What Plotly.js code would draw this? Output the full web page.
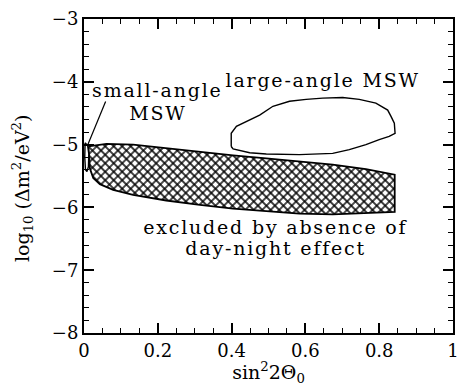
<!DOCTYPE html>
<html>
<head>
<meta charset="utf-8">
<script src="https://cdn.plot.ly/plotly-3.0.1.min.js"></script>
<style>
html,body{margin:0;padding:0;background:#fff;}
#chart{width:457px;height:386px;}
#chart .annotation:not([data-index="5"]) .annotation-text{letter-spacing:1.8px;}
#chart .subplot.xy .scatterlayer .trace:first-of-type path.js-fill{fill:url(#hatch) !important;fill-opacity:1 !important;}
</style>
</head>
<body>
<svg width="0" height="0" style="position:absolute">
  <defs>
    <pattern id="hatch" width="6" height="6" patternUnits="userSpaceOnUse" patternTransform="rotate(45)">
      <rect width="6" height="6" fill="white"></rect>
      <path d="M0,3H6M3,0V6" stroke="black" stroke-width="1.4"></path>
    </pattern>
  </defs>
</svg>
<div id="chart"></div>
<script>
// Excluded region (day-night effect), hatched
const excludedX = [0.012, 0.061, 0.133, 0.223, 0.314, 0.404, 0.494, 0.584, 0.674, 0.764, 0.842,
                   0.842, 0.764, 0.674, 0.584, 0.494, 0.404, 0.314, 0.223, 0.133, 0.079, 0.043, 0.025, 0.016, 0.013, 0.012];
const excludedY = [-5.03, -4.99, -5.00, -5.06, -5.11, -5.17, -5.22, -5.27, -5.32, -5.39, -5.48,
                   -6.07, -6.09, -6.11, -6.10, -6.06, -6.02, -5.96, -5.89, -5.80, -5.72, -5.63, -5.53, -5.38, -5.19, -5.03];
// Large-angle MSW region outline
const largeX = [0.399, 0.399, 0.413, 0.440, 0.476, 0.512, 0.557, 0.602, 0.647, 0.701, 0.746, 0.791, 0.823, 0.832, 0.841, 0.843,
                0.827, 0.800, 0.764, 0.719, 0.674, 0.584, 0.494, 0.449, 0.404, 0.399];
const largeY = [-5.03, -4.82, -4.71, -4.63, -4.53, -4.39, -4.31, -4.28, -4.26, -4.25, -4.28, -4.34, -4.45, -4.55, -4.66, -4.82,
                -4.87, -4.92, -5.00, -5.08, -5.14, -5.16, -5.15, -5.13, -5.07, -5.03];
// Small-angle MSW region outline
const smallX = [0.003, 0.010, 0.013, 0.012, 0.008, 0.004, 0.002, 0.003];
const smallY = [-4.97, -5.02, -5.15, -5.35, -5.43, -5.40, -5.20, -4.97];
// Pointer from the small-angle label
const pointerX = [0.0586, 0.010];
const pointerY = [-4.315, -5.005];
// Labels
const labelTexts = ["small-angle", "MSW", "large-angle MSW", "excluded by absence of", "day-night effect"];
const labelX = [0.198, 0.200, 0.648, 0.521, 0.521];
const labelY = [-4.13, -4.50, -3.97, -6.31, -6.65];
// Axis titles
const xTitle = 'sin<sup>2</sup>2Θ<sub>0</sub>';
const yTitle = 'log<sub>10</sub> (Δm<sup>2</sup>/eV<sup>2</sup>)';

const FONT = "DejaVu Serif";
const X_RANGE = [0, 1], Y_RANGE = [-8, -3];
const traces = [
  {x: excludedX, y: excludedY, type: 'scatter', mode: 'lines', fill: 'toself', fillcolor: 'white',
   line: {color: 'black', width: 1.8}},
  {x: largeX, y: largeY, type: 'scatter', mode: 'lines', line: {color: 'black', width: 1.4}},
  {x: smallX, y: smallY, type: 'scatter', mode: 'lines', fill: 'toself', fillcolor: 'white',
   line: {color: 'black', width: 1.4}},
  {x: pointerX, y: pointerY, xaxis: 'x2', yaxis: 'y2', type: 'scatter', mode: 'lines',
   line: {color: 'black', width: 1.2}}
];

const annotations = labelTexts.map((t, i) => ({
  x: labelX[i], y: labelY[i], xref: 'x', yref: 'y', text: t, showarrow: false,
  font: {family: FONT, size: 19, color: 'black'}, xanchor: 'center', yanchor: 'middle'
}));
annotations.push({
  x: -0.165, y: 0.462, xref: 'paper', yref: 'paper', text: yTitle, textangle: -90, showarrow: false,
  font: {family: FONT, size: 19, color: 'black'}, xanchor: 'center', yanchor: 'middle'
});

function axisBase(range, dtick, minorDtick) {
  return {
    range: range, dtick: dtick, ticks: 'inside', ticklen: 10, tickwidth: 1.5, tickcolor: 'black',
    showline: true, linewidth: 2, linecolor: 'black', showgrid: false, zeroline: false,
    minor: {dtick: minorDtick, ticks: 'inside', ticklen: 5, tickwidth: 1, tickcolor: 'black', showgrid: false},
    tickfont: {family: FONT, size: 18, color: 'black'}, ticklabeloverflow: 'allow'
  };
}

const xaxis = Object.assign(axisBase(X_RANGE, 0.2, 0.05), {
  tick0: 0, title: {text: xTitle, font: {family: FONT, size: 19}, standoff: 0}
});
const yaxis = axisBase(Y_RANGE, 1, 0.2);
const xaxis2 = Object.assign(axisBase(X_RANGE, 0.2, 0.05), {overlaying: 'x', side: 'top', showticklabels: false, anchor: 'y2'});
const yaxis2 = Object.assign(axisBase(Y_RANGE, 1, 0.2), {overlaying: 'y', side: 'right', showticklabels: false, anchor: 'x2'});

const layout = {
  width: 457, height: 386,
  margin: {l: 84, r: 4, t: 19, b: 53},
  showlegend: false,
  hovermode: false,
  font: {family: FONT, color: 'black', size: 18},
  xaxis: xaxis, yaxis: yaxis, xaxis2: xaxis2, yaxis2: yaxis2,
  annotations: annotations
};

Plotly.newPlot('chart', traces, layout, {displayModeBar: false});
</script>
</body>
</html>
